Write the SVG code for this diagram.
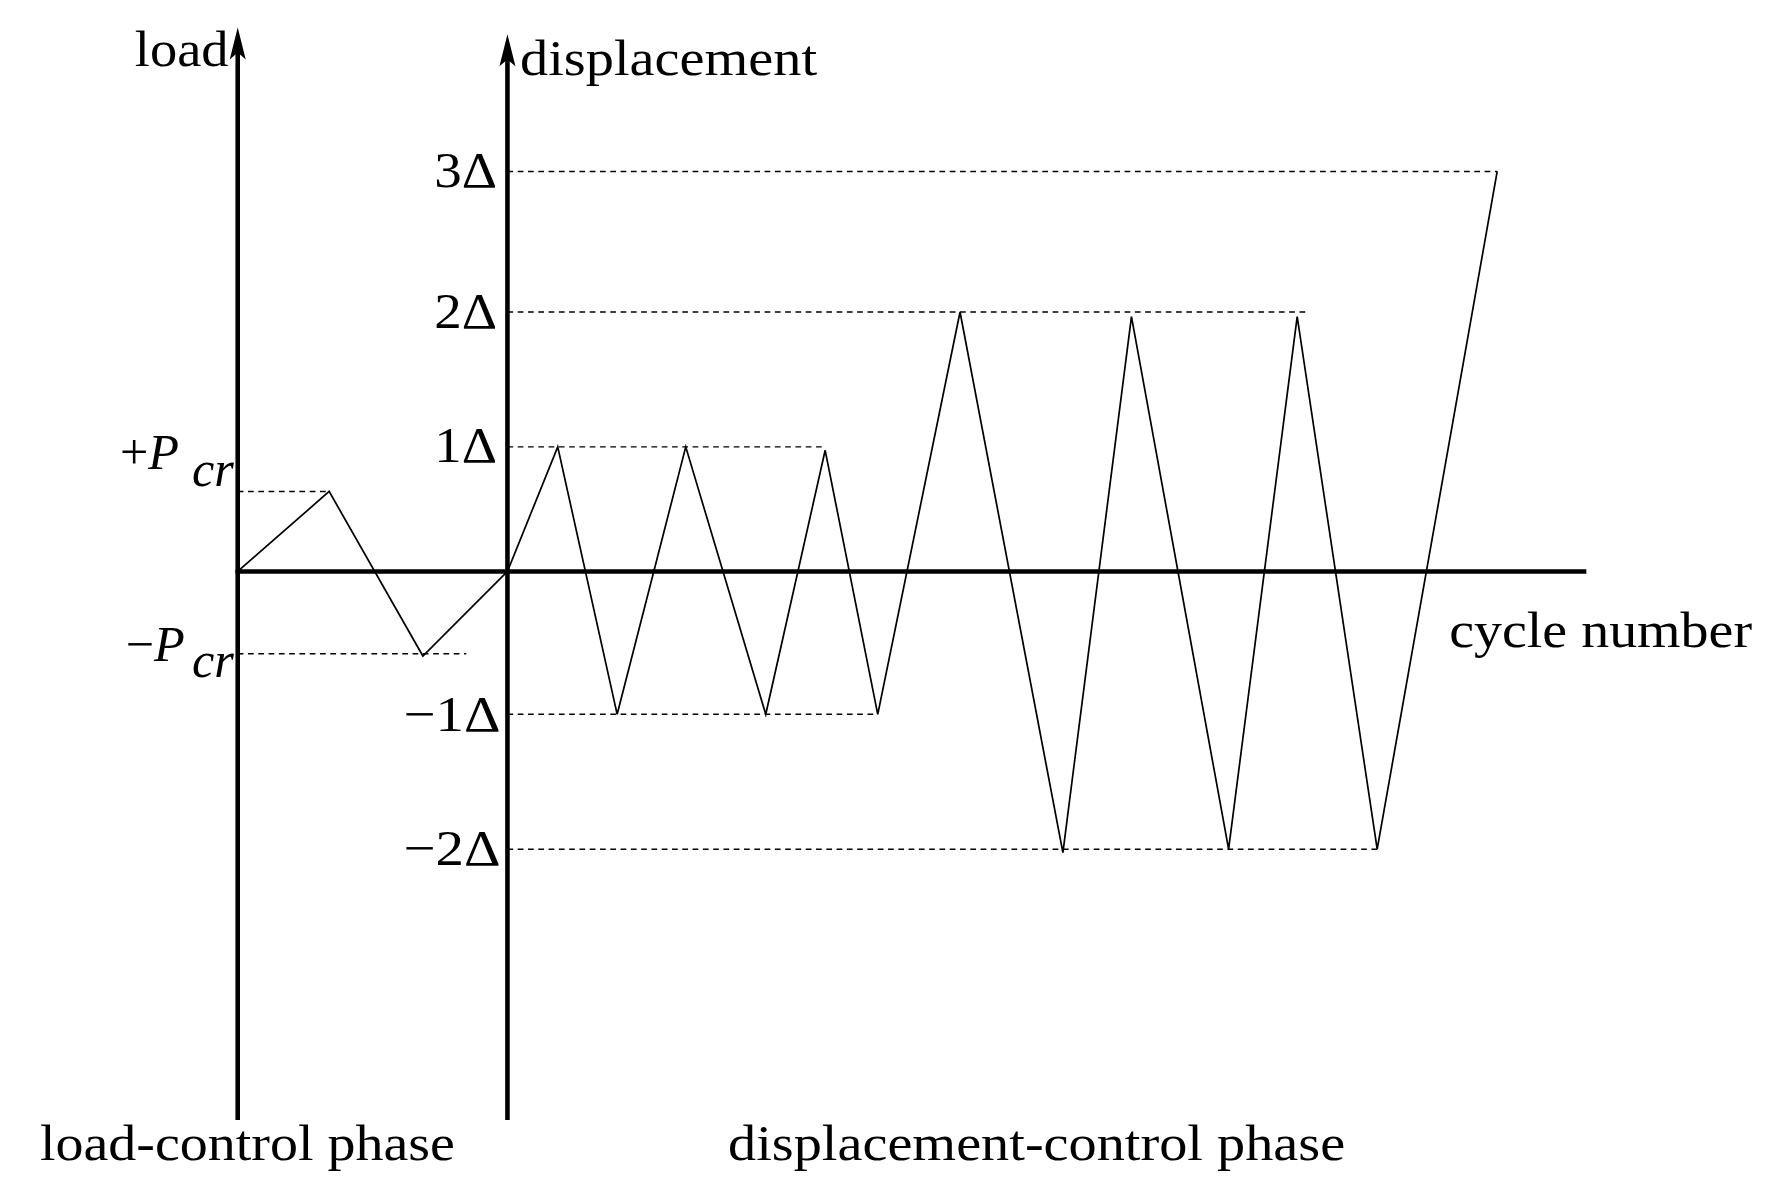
<svg xmlns="http://www.w3.org/2000/svg" width="1783" height="1196" viewBox="0 0 1783 1196">
<style>
text{font-family:"Liberation Serif","Times New Roman",serif;font-size:44px;fill:#000}
.i{font-style:italic}
.ax{stroke:#000;stroke-width:4;fill:none}
.d{stroke:#000;stroke-width:1.3;stroke-dasharray:5,4;fill:none}
.c{stroke:#000;stroke-width:1.5;fill:none}
</style>
<rect width="1783" height="1196" fill="#fff"/>
<g transform="scale(1.1429)">
<g id="axes">
<line class="ax" x1="208" y1="980" x2="208" y2="40"/>
<path d="M208,24 L201,52 L208,46 L215,52 Z" fill="#000"/>
<line class="ax" x1="444" y1="980" x2="444" y2="45"/>
<path d="M444,30 L437,58 L444,52 L451,58 Z" fill="#000"/>
<line class="ax" x1="206" y1="500" x2="1388" y2="500"/>
</g>
<g id="connectors">
<path class="d" d="M444,150H1310 M444,273H1145 M444,391H722 M444,625H768 M444,743H1205 M208,430H288 M208,572H408"/>
<path class="c" d="M208,500 L288,430 L370,574 L444,500"/>
<path class="c" d="M444,500 L488,391 L540,625 L600,391 L670,625 L722,394 L768,625 L840,273 L930,746 L990,277 L1075,743 L1135,277 L1205,743 L1310,150"/>
</g>
<g id="labels">
<text x="118" y="58" textLength="82" lengthAdjust="spacingAndGlyphs">load</text>
<text x="455" y="66" textLength="260" lengthAdjust="spacingAndGlyphs">displacement</text>
<text x="380" y="164" textLength="55" lengthAdjust="spacingAndGlyphs">3Δ</text>
<text x="380" y="287" textLength="55" lengthAdjust="spacingAndGlyphs">2Δ</text>
<text x="380" y="404" textLength="55" lengthAdjust="spacingAndGlyphs">1Δ</text>
<text x="353" y="640" textLength="85" lengthAdjust="spacingAndGlyphs">−1Δ</text>
<text x="353" y="757" textLength="85" lengthAdjust="spacingAndGlyphs">−2Δ</text>
<text x="105" y="410">+<tspan class="i">P</tspan></text>
<text x="168" y="425" class="i" font-size="30">cr</text>
<text x="110" y="578">−<tspan class="i">P</tspan></text>
<text x="168" y="592" class="i" font-size="30">cr</text>
<text x="1268" y="566" textLength="265" lengthAdjust="spacingAndGlyphs">cycle number</text>
<text x="35" y="1015" textLength="363" lengthAdjust="spacingAndGlyphs">load-control phase</text>
<text x="637" y="1015" textLength="540" lengthAdjust="spacingAndGlyphs">displacement-control phase</text>
</g>
</g>
</svg>
